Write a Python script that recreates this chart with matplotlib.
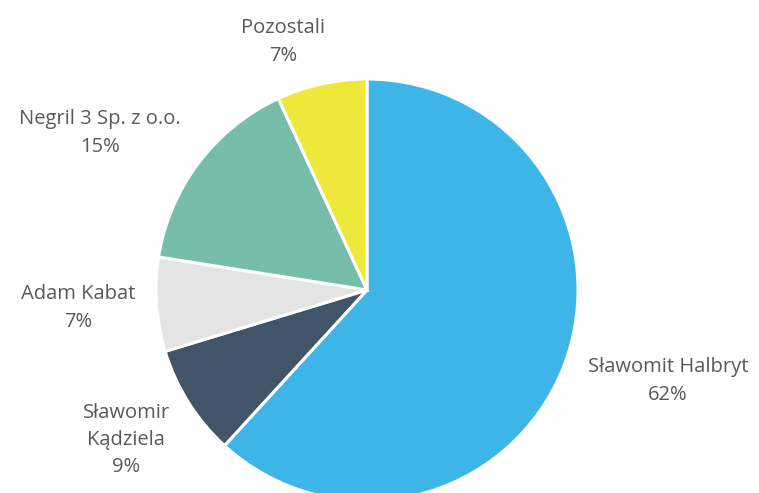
import matplotlib
matplotlib.use("Agg")
import matplotlib.pyplot as plt

# shareholders, clockwise from 12 o'clock
names = ["Sławomit Halbryt", "Sławomir\nKądziela", "Adam Kabat",
         "Negril 3 Sp. z o.o.", "Pozostali"]
shares = [61.8, 8.5, 7.2, 15.6, 6.9]
pct_labels = ["62%", "9%", "7%", "15%", "7%"]

colors = ["#3DB5E6", "#41546A", "#E4E4E4", "#76BDAA", "#EDE83A"]
# label centres in pixels from the top-left corner
label_xy = [(668, 381), (126, 440), (78, 308), (100, 133), (283, 42)]

plt.rcParams["font.family"] = ["Open Sans", "DejaVu Sans"]

W, H = 759, 493
fig = plt.figure(figsize=(W / 100, H / 100), dpi=100)
ax = fig.add_axes([0, 0, 1, 1])
ax.axis("off")

cx, cy, r = 367, H - 290, 211
wedges, _ = ax.pie(shares, colors=colors, startangle=90, counterclock=False,
                   center=(cx, cy), radius=r,
                   wedgeprops=dict(edgecolor="white", linewidth=2.2))
ax.set_xlim(0, W)
ax.set_ylim(0, H)
ax.set_aspect("equal")

for (lx, ly), name, pct in zip(label_xy, names, pct_labels):
    ax.text(lx, H - ly, f"{name}\n{pct}", ha="center", va="center",
            fontsize=14.5, color="#595959", linespacing=1.5)

fig.savefig("out.png", dpi=100)
